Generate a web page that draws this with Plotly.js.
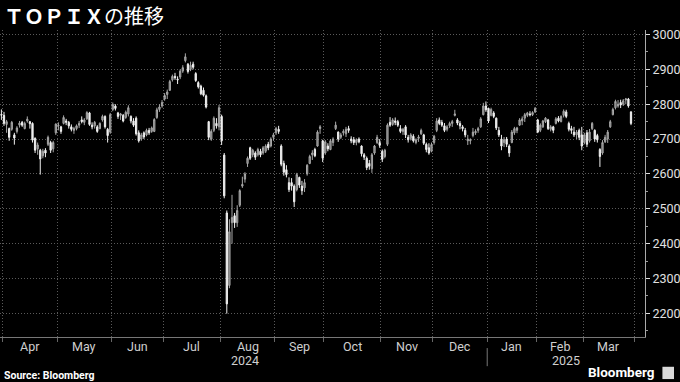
<!DOCTYPE html>
<html><head><meta charset="utf-8">
<script src="https://cdn.plot.ly/plotly-3.0.1.min.js"></script>
<style>html,body{margin:0;padding:0;background:#000;}#chart{width:680px;height:382px;}</style>
</head><body><div id="chart"></div>
<script>
// Trading calendar (TSE) shown on the axis; last entry is an axis-only day with no data
const tradingDays = [
'2024-03-29',
'2024-04-01','2024-04-02','2024-04-03','2024-04-04','2024-04-05','2024-04-08','2024-04-09','2024-04-10','2024-04-11','2024-04-12','2024-04-15','2024-04-16','2024-04-17','2024-04-18','2024-04-19','2024-04-22','2024-04-23','2024-04-24','2024-04-25','2024-04-26','2024-04-30',
'2024-05-01','2024-05-02','2024-05-07','2024-05-08','2024-05-09','2024-05-10','2024-05-13','2024-05-14','2024-05-15','2024-05-16','2024-05-17','2024-05-20','2024-05-21','2024-05-22','2024-05-23','2024-05-24','2024-05-27','2024-05-28','2024-05-29','2024-05-30','2024-05-31',
'2024-06-03','2024-06-04','2024-06-05','2024-06-06','2024-06-07','2024-06-10','2024-06-11','2024-06-12','2024-06-13','2024-06-14','2024-06-17','2024-06-18','2024-06-19','2024-06-20','2024-06-21','2024-06-24','2024-06-25','2024-06-26','2024-06-27','2024-06-28',
'2024-07-01','2024-07-02','2024-07-03','2024-07-04','2024-07-05','2024-07-08','2024-07-09','2024-07-10','2024-07-11','2024-07-12','2024-07-16','2024-07-17','2024-07-18','2024-07-19','2024-07-22','2024-07-23','2024-07-24','2024-07-25','2024-07-26','2024-07-29','2024-07-30','2024-07-31',
'2024-08-01','2024-08-02','2024-08-05','2024-08-06','2024-08-07','2024-08-08','2024-08-09','2024-08-13','2024-08-14','2024-08-15','2024-08-16','2024-08-19','2024-08-20','2024-08-21','2024-08-22','2024-08-23','2024-08-26','2024-08-27','2024-08-28','2024-08-29','2024-08-30',
'2024-09-02','2024-09-03','2024-09-04','2024-09-05','2024-09-06','2024-09-09','2024-09-10','2024-09-11','2024-09-12','2024-09-13','2024-09-17','2024-09-18','2024-09-19','2024-09-20','2024-09-24','2024-09-25','2024-09-26','2024-09-27','2024-09-30',
'2024-10-01','2024-10-02','2024-10-03','2024-10-04','2024-10-07','2024-10-08','2024-10-09','2024-10-10','2024-10-11','2024-10-15','2024-10-16','2024-10-17','2024-10-18','2024-10-21','2024-10-22','2024-10-23','2024-10-24','2024-10-25','2024-10-28','2024-10-29','2024-10-30','2024-10-31',
'2024-11-01','2024-11-05','2024-11-06','2024-11-07','2024-11-08','2024-11-11','2024-11-12','2024-11-13','2024-11-14','2024-11-15','2024-11-18','2024-11-19','2024-11-20','2024-11-21','2024-11-22','2024-11-25','2024-11-26','2024-11-27','2024-11-28','2024-11-29',
'2024-12-02','2024-12-03','2024-12-04','2024-12-05','2024-12-06','2024-12-09','2024-12-10','2024-12-11','2024-12-12','2024-12-13','2024-12-16','2024-12-17','2024-12-18','2024-12-19','2024-12-20','2024-12-23','2024-12-24','2024-12-25','2024-12-26','2024-12-27','2024-12-30',
'2025-01-06','2025-01-07','2025-01-08','2025-01-09','2025-01-10','2025-01-14','2025-01-15','2025-01-16','2025-01-17','2025-01-20','2025-01-21','2025-01-22','2025-01-23','2025-01-24','2025-01-27','2025-01-28','2025-01-29','2025-01-30','2025-01-31',
'2025-02-03','2025-02-04','2025-02-05','2025-02-06','2025-02-07','2025-02-10','2025-02-12','2025-02-13','2025-02-14','2025-02-17','2025-02-18','2025-02-19','2025-02-20','2025-02-21','2025-02-25','2025-02-26','2025-02-27','2025-02-28',
'2025-03-03','2025-03-04','2025-03-05','2025-03-06','2025-03-07','2025-03-10','2025-03-11','2025-03-12','2025-03-13','2025-03-14','2025-03-17','2025-03-18','2025-03-19','2025-03-21','2025-03-24','2025-03-25','2025-03-26','2025-03-27','2025-03-28',
'2025-03-31'
];

const open = [
2770,
2768,2742,2730,2728,2712,2722,2740,2748,2730,2752,2750,2745,2702,2672,2668,2652,2668,2685,2690,2672,2718,
2738,2735,2745,2752,2748,2735,2725,2730,2740,2755,2748,2758,2775,2740,2738,2735,2730,2755,2765,2728,2720,
2785,2795,2775,2768,2768,2762,2772,2765,2752,2760,2718,2700,2718,2712,2725,2722,2722,2762,2785,2795,
2815,2828,2840,2870,2880,2872,2878,2895,2925,2915,2900,2915,2888,2862,2852,2840,2824,2750,2700,2725,2745,2735,
2765,2654,2488,2280,2460,2480,2460,2510,2565,2585,2630,2675,2655,2660,2655,2665,2660,2665,2685,2680,2705,
2718,2728,2680,2630,2612,2575,2575,2565,2555,2590,2565,2560,2600,2630,2655,2670,2680,2730,2695,
2660,2680,2670,2690,2730,2720,2705,2718,2715,2730,2700,2698,2690,2700,2680,2655,2645,2630,2615,2660,2690,2690,
2665,2650,2685,2748,2742,2752,2750,2730,2722,2735,2705,2702,2708,2690,2702,2715,2712,2685,2675,2665,
2690,2725,2755,2748,2738,2728,2738,2745,2768,2755,2745,2735,2725,2695,2695,2710,2718,2725,2735,2770,2795,
2788,2768,2775,2760,2725,2700,2690,2700,2680,2690,2718,2725,2740,2752,2760,2768,2772,2770,2778,
2755,2725,2735,2750,2755,2728,2735,2745,2760,2750,2768,2778,2745,2730,2720,2712,2725,2712,
2690,2718,2695,2730,2725,2710,2670,2660,2692,2700,2735,2770,2790,2795,2805,2800,2812,2815,2778
];
const high = [
2785,
2778,2755,2733,2752,2718,2737,2752,2752,2750,2765,2752,2748,2705,2690,2672,2672,2674,2710,2695,2695,2745,
2748,2738,2768,2758,2752,2742,2735,2742,2752,2765,2760,2780,2778,2748,2752,2740,2748,2770,2768,2732,2775,
2805,2800,2778,2775,2772,2782,2797,2768,2760,2765,2725,2718,2722,2730,2732,2736,2760,2790,2800,2812,
2832,2842,2870,2885,2890,2880,2900,2912,2946,2918,2922,2922,2892,2866,2856,2848,2828,2752,2728,2765,2760,2798,
2770,2660,2495,2470,2540,2488,2510,2556,2592,2605,2650,2678,2672,2665,2675,2672,2680,2685,2692,2705,2718,
2735,2738,2685,2638,2625,2590,2588,2570,2603,2592,2580,2585,2628,2655,2668,2675,2725,2740,2698,
2697,2688,2700,2705,2750,2722,2718,2728,2735,2738,2708,2706,2702,2705,2682,2660,2650,2640,2660,2683,2712,2700,
2670,2672,2745,2763,2760,2762,2755,2740,2732,2740,2712,2717,2714,2702,2712,2730,2715,2690,2688,2690,
2712,2760,2762,2755,2746,2740,2750,2755,2784,2760,2752,2740,2732,2712,2702,2732,2728,2735,2763,2804,2808,
2790,2790,2780,2762,2735,2712,2706,2706,2685,2726,2735,2735,2760,2765,2775,2778,2780,2780,2792,
2758,2745,2755,2763,2758,2740,2738,2763,2766,2768,2785,2784,2750,2738,2735,2726,2730,2735,
2718,2726,2729,2749,2728,2715,2674,2697,2712,2726,2755,2790,2813,2812,2813,2815,2818,2818,2780
];
const low = [
2755,
2738,2718,2695,2724,2684,2716,2733,2735,2728,2747,2730,2690,2660,2655,2598,2645,2648,2680,2660,2662,2712,
2725,2715,2742,2740,2730,2722,2715,2725,2732,2745,2740,2755,2738,2728,2730,2718,2728,2750,2730,2690,2715,
2780,2782,2758,2755,2748,2758,2765,2745,2735,2710,2690,2695,2700,2708,2712,2718,2720,2758,2778,2790,
2810,2815,2838,2865,2870,2858,2872,2890,2920,2888,2895,2900,2864,2845,2826,2822,2788,2697,2695,2720,2730,2725,
2683,2530,2199,2272,2400,2445,2448,2505,2560,2575,2620,2640,2648,2640,2650,2648,2655,2660,2668,2676,2695,
2712,2715,2622,2595,2590,2548,2552,2505,2550,2560,2540,2548,2595,2628,2640,2648,2678,2715,2634,
2655,2665,2668,2680,2726,2692,2700,2710,2706,2718,2688,2683,2682,2688,2650,2640,2611,2612,2603,2655,2686,2675,
2634,2645,2680,2735,2738,2740,2735,2717,2712,2703,2690,2696,2690,2685,2692,2712,2683,2662,2655,2662,
2684,2720,2740,2735,2720,2722,2732,2735,2765,2740,2728,2722,2705,2683,2685,2705,2712,2718,2732,2768,2778,
2746,2765,2760,2726,2706,2668,2677,2677,2649,2688,2712,2717,2738,2740,2749,2763,2765,2766,2775,
2717,2720,2732,2746,2726,2722,2717,2742,2748,2748,2762,2760,2722,2715,2706,2700,2697,2668,
2685,2677,2690,2726,2692,2690,2620,2655,2689,2689,2732,2768,2785,2790,2789,2795,2800,2790,2740
];
const close = [
2769,
2745,2750,2705,2748,2703,2732,2746,2740,2745,2757,2744,2697,2668,2683,2643,2665,2660,2705,2668,2690,2743,
2740,2722,2762,2748,2738,2728,2730,2738,2745,2750,2755,2776,2742,2735,2748,2722,2745,2765,2735,2710,2770,
2799,2788,2765,2772,2752,2777,2790,2752,2740,2715,2695,2712,2706,2725,2718,2732,2756,2784,2792,2805,
2825,2835,2865,2880,2876,2870,2895,2905,2936,2894,2912,2906,2868,2850,2830,2826,2792,2705,2722,2760,2738,2790,
2695,2537,2227,2434,2475,2460,2495,2552,2570,2600,2645,2645,2668,2648,2670,2655,2675,2680,2675,2700,2712,
2730,2722,2628,2605,2598,2555,2565,2520,2598,2568,2552,2575,2625,2650,2660,2652,2720,2735,2645,
2692,2672,2695,2700,2740,2700,2712,2722,2728,2725,2695,2690,2698,2692,2658,2648,2618,2622,2655,2680,2705,2682,
2642,2668,2740,2740,2755,2748,2740,2722,2728,2712,2698,2712,2695,2698,2706,2725,2688,2670,2660,2684,
2708,2752,2745,2740,2725,2735,2745,2750,2772,2746,2738,2730,2712,2700,2698,2720,2722,2730,2758,2795,2784,
2752,2785,2765,2732,2712,2680,2698,2685,2660,2720,2730,2732,2755,2758,2770,2775,2770,2776,2788,
2720,2740,2752,2760,2730,2735,2725,2758,2752,2765,2780,2765,2728,2725,2712,2720,2705,2680,
2712,2685,2720,2745,2700,2698,2650,2690,2705,2720,2750,2785,2808,2800,2798,2810,2815,2795,2745
];

const monthLabels = ['Apr','May','Jun','Jul','Aug','Sep','Oct','Nov','Dec','Jan','Feb','Mar'];
const yearLabels = ['2024','2025'];
const yTickVals = [2200,2300,2400,2500,2600,2700,2800,2900,3000];
const titleText = '<b>ＴＯＰＩＸ</b>の推移';
const sourceText = 'Source: Bloomberg';

const x = open.map((_, i) => i);
const xRange = [-0.54, 248.4];

// month boundaries (between trading days)
const bounds = [];
let yearBound = null;
for (let i = 1; i < tradingDays.length; i++) {
  if (tradingDays[i].slice(0,7) !== tradingDays[i-1].slice(0,7)) bounds.push(i - 0.5);
  if (tradingDays[i].slice(0,4) !== tradingDays[i-1].slice(0,4)) yearBound = i - 0.5;
}
bounds.push(tradingDays.length - 0.5);

const labelFont = {family: 'Liberation Sans Narrow, Roboto, sans-serif', size: 12.5, color: '#cfcfcf'};
const annotations = monthLabels.map((m, k) => ({
  x: (bounds[k] + bounds[k+1]) / 2, xref: 'x', y: 0, yref: 'paper',
  yanchor: 'top', yshift: -1, text: m, showarrow: false, font: labelFont, borderpad: 0
}));
const yearPos = [(bounds[0] + yearBound) / 2, (yearBound + xRange[1]) / 2];
yearLabels.forEach((t, k) => annotations.push({
  x: yearPos[k], xref: 'x', y: 0, yref: 'paper', yanchor: 'top', yshift: -15,
  text: t, showarrow: false, font: labelFont, borderpad: 0
}));
annotations.push({x: 0, xref: 'paper', xanchor: 'left', xshift: 2, y: -0.124, yref: 'paper', yanchor: 'middle',
  text: '<b>' + sourceText + '</b>', showarrow: false, font: {family: 'Roboto, sans-serif', size: 10.5, color: '#fff'}});
annotations.push({x: 1.019, xref: 'paper', xanchor: 'right', y: -0.113, yref: 'paper', yanchor: 'middle',
  text: '<b>Bloomberg</b>', showarrow: false, font: {family: 'Roboto, sans-serif', size: 13.5, color: '#fff'}});

const n = [open.length, high.length, low.length, close.length];
if (n.some(v => v !== tradingDays.length - 1)) {
  annotations.push({x: 0.5, y: 0.5, xref: 'paper', yref: 'paper', text: 'LEN ' + n.join(',') + ' / ' + tradingDays.length, showarrow: false, font: {color: 'red', size: 20}});
}

const shapes = [
  {type: 'line', xref: 'x', x0: yearBound, x1: yearBound, yref: 'paper', y0: -0.036, y1: -0.095, line: {color: '#777', width: 1}},
  {type: 'rect', xref: 'paper', yref: 'paper', x0: 1.027, x1: 1.045, y0: -0.097, y1: -0.137, fillcolor: '#d8d8d8', line: {width: 0}}
];

const trace = {
  type: 'candlestick', x: x, open: open, high: high, low: low, close: close,
  increasing: {line: {color: '#a8a8a8', width: 1}, fillcolor: '#707070'},
  decreasing: {line: {color: '#f0f0f0', width: 1}, fillcolor: '#f0f0f0'},
  whiskerwidth: 0, hoverinfo: 'skip'
};

const gridColor = '#5a5a5a';
const gridDash = '1px,2px';
const layout = {
  width: 680, height: 382,
  paper_bgcolor: '#000', plot_bgcolor: '#000',
  margin: {l: 0, r: 35, t: 30, b: 45},
  showlegend: false,
  title: {text: titleText, x: 0.006, xanchor: 'left', xref: 'container', y: 0.955, yanchor: 'middle', yref: 'container',
    font: {family: 'Noto Sans CJK JP, sans-serif', size: 20, color: '#fff'}},
  xaxis: {range: xRange, tickmode: 'array', tickvals: bounds, ticktext: bounds.map(() => ''),
    showgrid: true, gridcolor: gridColor, griddash: gridDash, gridwidth: 1,
    ticks: 'outside', ticklen: 4, tickcolor: '#666', showline: true, linecolor: '#777', linewidth: 1,
    zeroline: false, rangeslider: {visible: false}, fixedrange: true},
  yaxis: {side: 'right', range: [2132, 3013], tickmode: 'array', tickvals: yTickVals,
    showgrid: true, gridcolor: gridColor, griddash: gridDash, gridwidth: 1,
    ticks: 'outside', ticklen: 4, tickcolor: '#ddd', showline: true, linecolor: '#aaa', linewidth: 1,
    zeroline: false, fixedrange: true,
    tickfont: {family: 'Roboto, sans-serif', size: 12.5, color: '#e0e0e0'},
    minor: {tickmode: 'linear', tick0: 2150, dtick: 50, ticks: 'outside', ticklen: 2, tickcolor: '#999', showgrid: false}},
  annotations: annotations,
  shapes: shapes
};

Plotly.newPlot('chart', [trace], layout, {displayModeBar: false, staticPlot: true});
</script>
</body></html>
